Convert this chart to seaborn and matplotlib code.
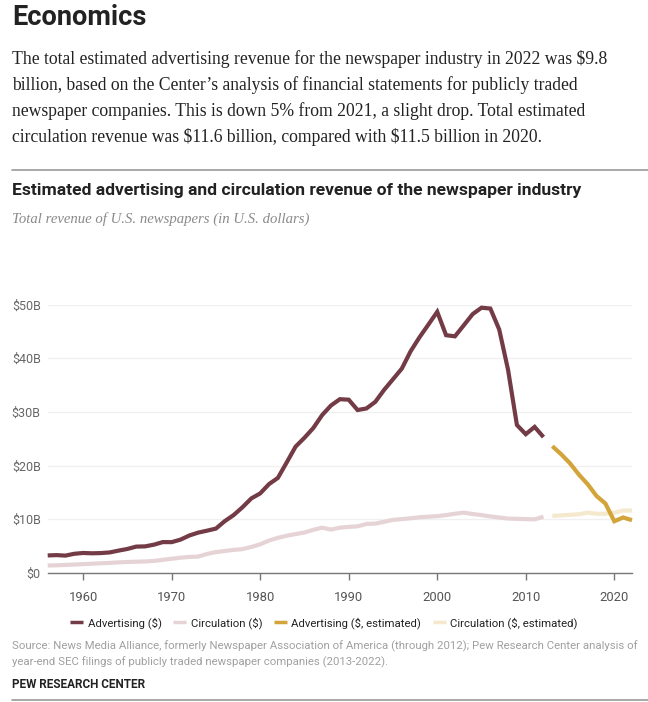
import numpy as np
import pandas as pd
import matplotlib
matplotlib.use("Agg")
import matplotlib.pyplot as plt
import seaborn as sns
from matplotlib.lines import Line2D

# ---------------- data (billions of US dollars) ----------------
years_actual = list(range(1956, 2013))
advertising = [3.22, 3.28, 3.19, 3.53, 3.68, 3.62, 3.66, 3.78, 4.12, 4.43,
               4.87, 4.91, 5.23, 5.71, 5.70, 6.17, 6.94, 7.48, 7.84, 8.23,
               9.62, 10.75, 12.21, 13.86, 14.79, 16.53, 17.69, 20.58, 23.52, 25.17,
               26.99, 29.41, 31.20, 32.37, 32.28, 30.35, 30.64, 31.87, 34.11, 36.09,
               38.08, 41.33, 43.93, 46.29, 48.67, 44.31, 44.10, 46.16, 48.24, 49.44,
               49.28, 45.38, 37.85, 27.56, 25.84, 27.20, 25.30]
circulation = [1.35, 1.38, 1.45, 1.52, 1.60, 1.68, 1.76, 1.83, 1.93, 2.00,
               2.05, 2.10, 2.20, 2.40, 2.60, 2.80, 2.95, 3.00, 3.50, 3.85,
               4.05, 4.25, 4.40, 4.80, 5.30, 6.00, 6.50, 6.90, 7.20, 7.50,
               8.00, 8.40, 8.05, 8.40, 8.55, 8.65, 9.10, 9.15, 9.50, 9.85,
               10.00, 10.15, 10.35, 10.45, 10.55, 10.75, 11.00, 11.20, 10.95, 10.75,
               10.50, 10.30, 10.10, 10.05, 10.00, 9.95, 10.45]
years_est = list(range(2013, 2023))
advertising_est = [23.6, 22.1, 20.4, 18.3, 16.5, 14.3, 12.9, 9.6, 10.3, 9.8]
circulation_est = [10.6, 10.7, 10.8, 10.9, 11.2, 11.0, 11.0, 11.2, 11.6, 11.6]

series_labels = ["Advertising ($)", "Circulation ($)",
                 "Advertising ($, estimated)", "Circulation ($, estimated)"]
y_ticks = [0, 10, 20, 30, 40, 50]
y_tick_labels = ["$0", "$10B", "$20B", "$30B", "$40B", "$50B"]
x_ticks = [1960, 1970, 1980, 1990, 2000, 2010, 2020]

colors = ["#733b46", "#e6d3d6", "#d2a43a", "#f4e9cd"]

# ---------------- figure ----------------
sns.set_theme(style="white")
plt.rcParams['font.family'] = ['Roboto', 'DejaVu Sans']
plt.rcParams['text.parse_math'] = False

W, H = 648, 702
fig = plt.figure(figsize=(W / 100, H / 100), dpi=100)

def fx(px):
    return px / W

def fy(py):
    return 1 - py / H

ax_left, ax_right, ax_top, ax_bottom = 47.7, 632.0, 304.7, 572.7
ax = fig.add_axes([fx(ax_left), fy(ax_bottom), fx(ax_right - ax_left), (ax_bottom - ax_top) / H])

df = pd.concat([
    pd.DataFrame({"year": years_actual, "value": advertising, "series": series_labels[0]}),
    pd.DataFrame({"year": years_actual, "value": circulation, "series": series_labels[1]}),
    pd.DataFrame({"year": years_est, "value": advertising_est, "series": series_labels[2]}),
    pd.DataFrame({"year": years_est, "value": circulation_est, "series": series_labels[3]}),
])

# draw circulation first so advertising lines sit on top
for lab, col in zip([series_labels[1], series_labels[3], series_labels[0], series_labels[2]],
                    [colors[1], colors[3], colors[0], colors[2]]):
    sub = df[df["series"] == lab]
    sns.lineplot(data=sub, x="year", y="value", ax=ax, color=col, linewidth=3.0,
                 legend=False, clip_on=False,
                 solid_capstyle="butt", solid_joinstyle="miter")

ax.set_xlim(1956, 2022)
ax.set_ylim(0, 50)
ax.set_yticks(y_ticks)
ax.set_yticklabels(y_tick_labels)
ax.set_xticks(x_ticks)
ax.set_xticklabels([str(t) for t in x_ticks])
ax.set_xlabel("")
ax.set_ylabel("")

for s in ["top", "right", "left"]:
    ax.spines[s].set_visible(False)
ax.spines["bottom"].set_color("#777777")
ax.spines["bottom"].set_linewidth(1.0)
ax.yaxis.grid(True, color="#f0f0f0", linewidth=1.0)
ax.xaxis.grid(False)
ax.set_axisbelow(True)
ax.tick_params(axis="x", direction="out", length=5, width=1.0, color="#777777",
               labelsize=9.4, labelcolor="#555555", pad=8, bottom=True)
ax.tick_params(axis="y", length=0, labelsize=9.0, labelcolor="#666666", pad=5)

# legend
handles = [Line2D([0], [0], color=c, linewidth=2.5, marker=None,
                  solid_capstyle="butt") for c in colors]
fig.legend(handles, series_labels, loc="center", ncol=4,
           bbox_to_anchor=(0.5, fy(623)), frameon=False,
           fontsize=8.2, handlelength=1.15, handletextpad=0.4,
           columnspacing=1.0, labelcolor="#222222")

# ---------------- texts ----------------
fig.text(fx(12), fy(25), "Economics", fontsize=19.5, fontweight="bold",
         color="#222222", va="baseline", ha="left")

para = ["The total estimated advertising revenue for the newspaper industry in 2022 was $9.8",
        "billion, based on the Center\u2019s analysis of financial statements for publicly traded",
        "newspaper companies. This is down 5% from 2021, a slight drop. Total estimated",
        "circulation revenue was $11.6 billion, compared with $11.5 billion in 2020."]
for i, line in enumerate(para):
    fig.text(fx(12), fy(63.5 + 26 * i), line, fontsize=12.7,
             family=["Liberation Serif", "DejaVu Serif"], color="#222222",
             va="baseline", ha="left")

fig.add_artist(Line2D([fx(12), fx(648)], [fy(170), fy(170)], color="#999999", linewidth=1.2))

fig.text(fx(12), fy(195), "Estimated advertising and circulation revenue of the newspaper industry",
         fontsize=12.6, fontweight="bold", color="#222222", va="baseline", ha="left")
fig.text(fx(12), fy(223), "Total revenue of U.S. newspapers (in U.S. dollars)",
         fontsize=10.6, style="italic", family=["Liberation Serif", "DejaVu Serif"],
         color="#8a8a8a", va="baseline", ha="left")

fig.text(fx(12), fy(649), "Source: News Media Alliance, formerly Newspaper Association of America (through 2012); Pew Research Center analysis of",
         fontsize=8.2, color="#a0a0a0", va="baseline", ha="left")
fig.text(fx(12), fy(665), "year-end SEC filings of publicly traded newspaper companies (2013-2022).",
         fontsize=8.2, color="#a0a0a0", va="baseline", ha="left")
fig.text(fx(12), fy(688.5), "PEW RESEARCH CENTER", fontsize=8.5, fontweight="bold",
         color="#222222", va="baseline", ha="left")

fig.add_artist(Line2D([fx(12), fx(648)], [fy(700), fy(700)], color="#999999", linewidth=1.2))

fig.savefig("out.png", dpi=100, facecolor="white")
